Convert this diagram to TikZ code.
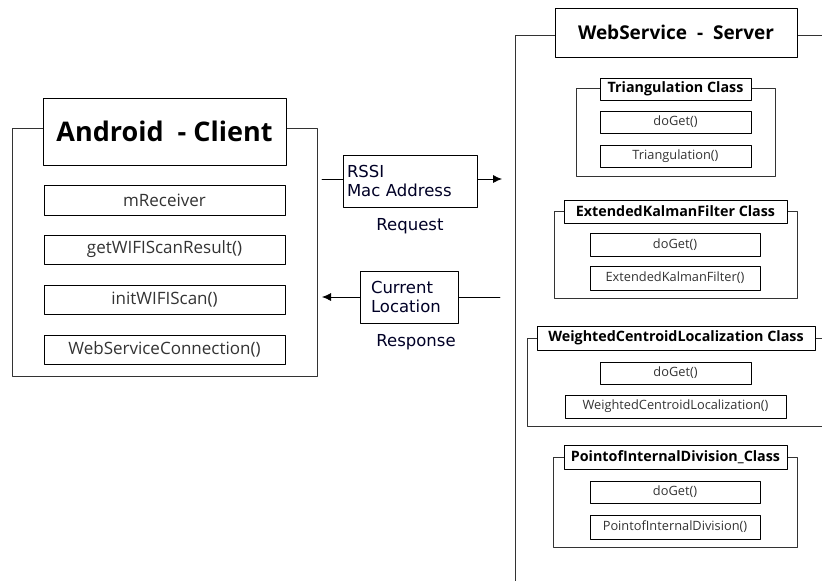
\documentclass[tikz,border=0pt]{standalone}
\usepackage{fontspec}
\setmainfont{Open Sans}
\newfontfamily\msgfont{DejaVu Sans}
\usetikzlibrary{arrows.meta,positioning}

\begin{document}
\begin{tikzpicture}
    [x=1pt,y=-1pt,line cap=round,line join=round,
     titlebox/.style={draw,thick,fill=white,font=\bfseries,inner sep=0pt},
     methodbox/.style={draw,fill=white,inner sep=0pt,text=black!80},
     msgbox/.style={draw,thick,fill=white,inner sep=0pt,font=\msgfont\fontsize{16.5}{19}\selectfont,text=black!85!blue,align=left},
     msglabel/.style={font=\msgfont\fontsize{16.5}{19}\selectfont,text=black!85!blue},
     frame/.style={draw,black!80,semithick},
     msgtip/.style={-{Latex[length=9pt,width=8pt]}}]
\useasboundingbox (0,0) rectangle (822,581);
%client side
  \draw[frame] (43,128) -- (12,128) -- (12,376) -- (317,376) -- (317,128) -- (286,128);
  \node[titlebox,minimum width=243,minimum height=67,font=\bfseries\fontsize{27}{31}\selectfont] (client) at (164.5,131.5) {Android\ \ - Client};
  \node[methodbox,minimum width=241,minimum height=30,font=\fontsize{17}{20}\selectfont] (mrecv) at (164.5,200) {mReceiver};
  \node[methodbox,minimum width=241,minimum height=29,font=\fontsize{17}{20}\selectfont] (getscan) at (164.5,249.5) {getWIFIScanResult()};
  \node[methodbox,minimum width=241,minimum height=29,font=\fontsize{17}{20}\selectfont] (initscan) at (164.5,299.5) {initWIFIScan()};
  \node[methodbox,minimum width=241,minimum height=29,font=\fontsize{17}{20}\selectfont] (wsconn) at (164.5,349.5) {WebServiceConnection()};
%messages
  \coordinate (reqA) at (322,179);
  \coordinate (reqB) at (502,179);
  \coordinate (resA) at (500,297);
  \coordinate (resB) at (322,297);
  \node[msgbox,minimum width=134,minimum height=52,text width=126] (req) at (410,181) {RSSI\\Mac Address};
  \node[msgbox,minimum width=98,minimum height=52,text width=76,xshift=4pt] (res) at (405,297) {Current\\Location};
  \node[msglabel,below=8pt of req] (reqlbl) {Request};
  \node[msglabel,below=8pt of res,xshift=7pt] (reslbl) {Response};
  \draw[thick] (reqA) -- (reqA -| req.west);
  \draw[thick,msgtip] (req.east |- reqB) -- (reqB);
  \draw[thick] (resA) -- (resA -| res.east);
  \draw[thick,msgtip] (res.west |- resB) -- (resB);
%server side
  \draw[frame] (555,35) -- (515,35) -- (515,581);
  \draw[frame] (797,35) -- (822,35);
  \node[titlebox,minimum width=242,minimum height=49,font=\bfseries\fontsize{19}{22}\selectfont] (server) at (676,32.5) {WebService\ \ -\ \ Server};
% triangulation
  \draw[frame] (600,88) -- (576,88) -- (576,176) -- (775,176) -- (775,88) -- (751,88);
  \node[titlebox,minimum width=151,minimum height=22,font=\bfseries\fontsize{14.3}{16}\selectfont] (tri) at (675.5,89) {Triangulation Class};
  \node[methodbox,minimum width=151,minimum height=22,font=\fontsize{12.8}{15}\selectfont] (triget) at (675.5,122) {doGet()};
  \node[methodbox,minimum width=151,minimum height=22,font=\fontsize{12.8}{15}\selectfont] (trifn) at (675.5,156) {Triangulation()};
% kalman
  \draw[frame] (564,211) -- (554,211) -- (554,298) -- (797,298) -- (797,211) -- (787,211);
  \node[titlebox,minimum width=223,minimum height=23,font=\bfseries\fontsize{14.3}{16}\selectfont] (ekf) at (675.5,211.5) {ExtendedKalmanFilter Class};
  \node[methodbox,minimum width=170,minimum height=23,font=\fontsize{12.8}{15}\selectfont] (ekfget) at (675,244.5) {doGet()};
  \node[methodbox,minimum width=170,minimum height=24,font=\fontsize{12.8}{15}\selectfont] (ekffn) at (675,278) {ExtendedKalmanFilter()};
% weighted centroid
  \draw[frame] (537,338) -- (527,338) -- (527,426) -- (822,426);
  \draw[frame] (815,338) -- (822,338);
  \node[titlebox,minimum width=278,minimum height=24,font=\bfseries\fontsize{14.3}{16}\selectfont] (wcl) at (676,338) {WeightedCentroidLocalization Class};
  \node[methodbox,minimum width=151,minimum height=22,font=\fontsize{12.8}{15}\selectfont] (wclget) at (675.5,373) {doGet()};
  \node[methodbox,minimum width=221,minimum height=23,font=\fontsize{12.8}{15}\selectfont] (wclfn) at (675.5,406.5) {WeightedCentroidLocalization()};
% internal division
  \draw[frame] (564,457) -- (553,457) -- (553,547) -- (797,547) -- (797,457) -- (787,457);
  \node[titlebox,minimum width=223,minimum height=24,font=\bfseries\fontsize{14.3}{16}\selectfont] (pid) at (675.5,457) {PointofInternalDivision\_Class};
  \node[methodbox,minimum width=170,minimum height=22,font=\fontsize{12.8}{15}\selectfont] (pidget) at (675,492) {doGet()};
  \node[methodbox,minimum width=170,minimum height=24,font=\fontsize{12.8}{15}\selectfont] (pidfn) at (675,527) {PointofInternalDivision()};
\end{tikzpicture}
\end{document}
